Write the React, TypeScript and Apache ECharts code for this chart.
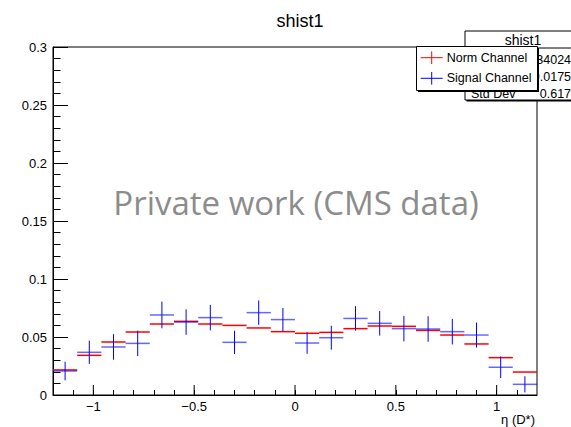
import React, { useEffect, useRef } from "react";
import * as echarts from "echarts";

// ---- data ----
const histTitle = "shist1";
const binWidth = 0.12;
const binCenters = [-1.14, -1.02, -0.9, -0.78, -0.66, -0.54, -0.42, -0.3, -0.18, -0.06, 0.06, 0.18, 0.3, 0.42, 0.54, 0.66, 0.78, 0.9, 1.02, 1.14];
const normValues = [0.0216, 0.0342, 0.0457, 0.0543, 0.0612, 0.0635, 0.0612, 0.06, 0.0578, 0.0546, 0.0532, 0.054, 0.0572, 0.0595, 0.0592, 0.0557, 0.0517, 0.044, 0.0322, 0.0198];
const signalValues = [0.0207, 0.0368, 0.0414, 0.0445, 0.069, 0.0629, 0.0667, 0.0454, 0.071, 0.065, 0.0448, 0.0494, 0.066, 0.0618, 0.0572, 0.0569, 0.0546, 0.0517, 0.0239, 0.0092];
const signalErrors = [0.008, 0.01, 0.011, 0.011, 0.0115, 0.011, 0.011, 0.01, 0.0105, 0.01, 0.0093, 0.0103, 0.0106, 0.0106, 0.011, 0.011, 0.011, 0.0108, 0.0093, 0.007];
const xMajorTicks = [-1, -0.5, 0, 0.5, 1];
const seriesNames = ["Norm Channel", "Signal Channel"];
const statsLabels = ["Entries", "Mean", "Std Dev"];
const statsValues = ["340246", "0.01756", "0.6174"];
const xAxisTitle = "η (D*)";
const watermark = "Private work (CMS data)";

const FONT = "Liberation Sans, Arial, sans-serif";

function histRender(color: string, withErr: boolean, hOpacity: number) {
  return (params: any, api: any) => {
    const x = api.value(0);
    const y = api.value(1);
    const e = api.value(2);
    const l = api.coord([x - binWidth / 2, y]);
    const r = api.coord([x + binWidth / 2, y]);
    const children: any[] = [
      {
        type: "line",
        shape: { x1: l[0], y1: l[1], x2: r[0], y2: r[1] },
        style: { stroke: color, lineWidth: 1.5, opacity: hOpacity },
      },
    ];
    if (withErr) {
      const t = api.coord([x, y + e]);
      const b = api.coord([x, y - e]);
      children.push({
        type: "line",
        shape: { x1: t[0], y1: t[1], x2: b[0], y2: b[1] },
        style: { stroke: color, lineWidth: 1 },
      });
    }
    return { type: "group", children };
  };
}

export default function App() {
  const ref = useRef<HTMLDivElement>(null);
  useEffect(() => {
    if (!ref.current) return;
    const chart = echarts.init(ref.current, undefined, { renderer: "svg" });
    const fmtX = (v: number) => {
      if (Math.abs(v * 2 - Math.round(v * 2)) > 1e-6) return "";
      const r = Math.round(v * 2) / 2;
      return String(r).replace("-", "\u2212");
    };
    const statsX = 465;
    const statsY = 31;
    const legX = 416.5;
    const legY = 46.5;
    chart.setOption({
      animation: false,
      backgroundColor: "#fff",
      title: {
        text: histTitle,
        left: 295,
        top: 7,
        textAlign: "center",
        textStyle: { fontFamily: FONT, fontSize: 18, fontWeight: "normal", color: "#000" },
      },
      grid: { left: 53, right: 34, top: 47, bottom: 32, show: true, borderColor: "#000", borderWidth: 1, backgroundColor: "transparent" },
      xAxis: {
        type: "value",
        min: -1.2,
        max: 1.2,
        interval: 0.1,
        axisLine: { show: true, onZero: false, lineStyle: { color: "#000", width: 1 } },
        axisTick: { show: true, inside: true, length: 5, lineStyle: { color: "#000" } },
        axisLabel: { formatter: fmtX, fontFamily: FONT, fontSize: 13, color: "#000", margin: 5, showMinLabel: false, showMaxLabel: false },
        splitLine: { show: false },
      },
      yAxis: {
        type: "value",
        min: 0,
        max: 0.3,
        interval: 0.05,
        axisLine: { show: true, onZero: false, lineStyle: { color: "#000", width: 1 } },
        axisTick: { show: true, inside: true, length: 15, lineStyle: { color: "#000" } },
        minorTick: { show: true, splitNumber: 5, length: 7.5, lineStyle: { color: "#000" } },
        axisLabel: { fontFamily: FONT, fontSize: 13, color: "#000", margin: 6 },
        splitLine: { show: false },
      },
      series: [
        {
          type: "custom",
          name: "xMajorTicks",
          silent: true,
          data: xMajorTicks.map((v) => [v, 0]),
          renderItem: (params: any, api: any) => {
            const p = api.coord([api.value(0), 0]);
            return {
              type: "line",
              shape: { x1: p[0], y1: p[1], x2: p[0], y2: p[1] - 10 },
              style: { stroke: "#000", lineWidth: 1 },
            };
          },
        },
        {
          type: "custom",
          name: seriesNames[0],
          data: binCenters.map((c, i) => [c, normValues[i], 0]),
          renderItem: histRender("#ff0000", false, 1),
        },
        {
          type: "custom",
          name: seriesNames[1],
          data: binCenters.map((c, i) => [c, signalValues[i], signalErrors[i]]),
          renderItem: histRender("#0000ff", true, 0.6),
        },
      ],
      graphic: [
        {
          type: "text",
          z: 50,
          x: 296,
          y: 202,
          style: { text: watermark, fill: "#8c8c8c", font: "33px 'Open Sans', sans-serif", textAlign: "center", textVerticalAlign: "middle" },
        },
        {
          type: "text",
          z: 50,
          x: 535,
          y: 419,
          style: { text: xAxisTitle, fill: "#000", font: `13px ${FONT}`, textAlign: "right", textVerticalAlign: "middle" },
        },
        // stats box
        { type: "rect", z: 100, shape: { x: statsX + 1.5, y: statsY + 1.5, width: 130, height: 69 }, style: { fill: "#000" } },
        { type: "rect", z: 101, shape: { x: statsX, y: statsY, width: 130, height: 69 }, style: { fill: "#fff", stroke: "#000", lineWidth: 1 } },
        { type: "line", z: 102, shape: { x1: statsX, y1: 48, x2: statsX + 130, y2: 48 }, style: { stroke: "#000", lineWidth: 1 } },
        { type: "text", z: 102, x: 523, y: 40, style: { text: histTitle, fill: "#000", font: `14px ${FONT}`, textAlign: "center", textVerticalAlign: "middle" } },
        ...statsLabels.map((s, i) => ({
          type: "text", z: 102, x: 471, y: 60 + i * 17.2,
          style: { text: s, fill: "#000", font: `12.5px ${FONT}`, textAlign: "left", textVerticalAlign: "middle" },
        })),
        ...statsValues.map((s, i) => ({
          type: "text", z: 102, x: 578, y: 60 + i * 17.2,
          style: { text: s, fill: "#000", font: `12.5px ${FONT}`, textAlign: "right", textVerticalAlign: "middle" },
        })),
        // legend
        { type: "rect", z: 110, shape: { x: legX + 1.5, y: legY + 1.5, width: 121, height: 44 }, style: { fill: "#000" } },
        { type: "rect", z: 111, shape: { x: legX, y: legY, width: 121, height: 44 }, style: { fill: "#fff", stroke: "#000", lineWidth: 1 } },
        ...seriesNames.flatMap((n, i) => {
          const cy = 57.7 + i * 20.6;
          const col = i === 0 ? "#ff0000" : "#0000ff";
          return [
            { type: "line", z: 112, shape: { x1: 420.7, y1: cy, x2: 442.7, y2: cy }, style: { stroke: col, lineWidth: 1 } },
            { type: "line", z: 112, shape: { x1: 431.7, y1: cy - 6.3, x2: 431.7, y2: cy + 6.3 }, style: { stroke: col, lineWidth: 1 } },
            { type: "text", z: 112, x: 446.7, y: cy, style: { text: n, fill: "#000", font: `12.5px ${FONT}`, textAlign: "left", textVerticalAlign: "middle" } },
          ];
        }),
      ],
    });
    return () => chart.dispose();
  }, []);
  return <div ref={ref} style={{ position: "fixed", left: 0, top: 0, width: 571, height: 427 }} />;
}
